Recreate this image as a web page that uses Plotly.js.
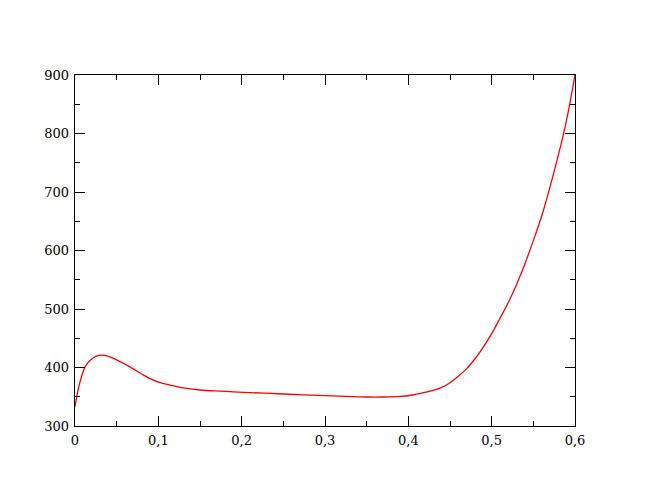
<!DOCTYPE html>
<html>
<head>
<meta charset="utf-8">
<script src="https://cdn.plot.ly/plotly-3.0.1.min.js"></script>
<style>
  body { margin: 0; background: #fff; }
  #Graph { width: 648px; height: 501px; }
</style>
</head>
<body>
<div id="Graph"></div>
<script>
// values
var xs = [0, 0.004, 0.008, 0.012, 0.018, 0.025, 0.032, 0.04, 0.05, 0.066, 0.08, 0.09, 0.102, 0.114,
  0.13, 0.15, 0.175, 0.202, 0.25, 0.3, 0.35, 0.37, 0.39, 0.405, 0.414, 0.425, 0.44, 0.45, 0.46,
  0.47, 0.48, 0.49, 0.5, 0.51, 0.522, 0.536, 0.552, 0.562, 0.574, 0.584, 0.592, 0.6];
var ys = [333, 364, 385, 401, 412, 419, 421, 419, 413, 401, 389, 381, 374, 370,
  365, 361.5, 359.5, 357.6, 354.7, 351.8, 349.6, 349.6, 350.5, 353, 355.5, 359, 366, 374, 385,
  398, 415, 435, 458, 484, 517, 563, 625, 668, 730, 786, 838, 900];

var curve = {
  x: xs,
  y: ys,
  type: 'scatter',
  mode: 'lines',
  line: {color: '#ff0000', width: 1.3, shape: 'spline', smoothing: 0.8},
  hoverinfo: 'skip'
};

var serif = 'DejaVu Serif';

var axis_style = {
  showgrid: false,
  zeroline: false,
  showline: true,
  linecolor: '#000',
  linewidth: 1.3,
  mirror: 'ticks',
  ticks: 'inside',
  ticklen: 10,
  tickwidth: 1,
  tickcolor: '#000',
  ticklabelstandoff: 2,
  tickfont: {family: serif, size: 13, color: '#000'}
};

var layout = {
  width: 648,
  height: 501,
  margin: {l: 75, r: 73, t: 75, b: 75},
  font: {family: serif, size: 13, color: '#000'},
  paper_bgcolor: '#fff',
  plot_bgcolor: '#fff',
  separators: ',.',
  showlegend: false,
  xaxis: Object.assign({}, axis_style, {
    range: [0, 0.6],
    dtick: 0.1,
    tick0: 0,
    minor: {dtick: 0.05, ticks: 'inside', ticklen: 5, tickcolor: '#000', tickwidth: 1}
  }),
  yaxis: Object.assign({}, axis_style, {
    range: [300, 900],
    dtick: 100,
    tick0: 300,
    minor: {dtick: 50, ticks: 'inside', ticklen: 5, tickcolor: '#000', tickwidth: 1}
  })
};

Plotly.newPlot('Graph', [curve], layout, {staticPlot: true});
</script>
</body>
</html>
